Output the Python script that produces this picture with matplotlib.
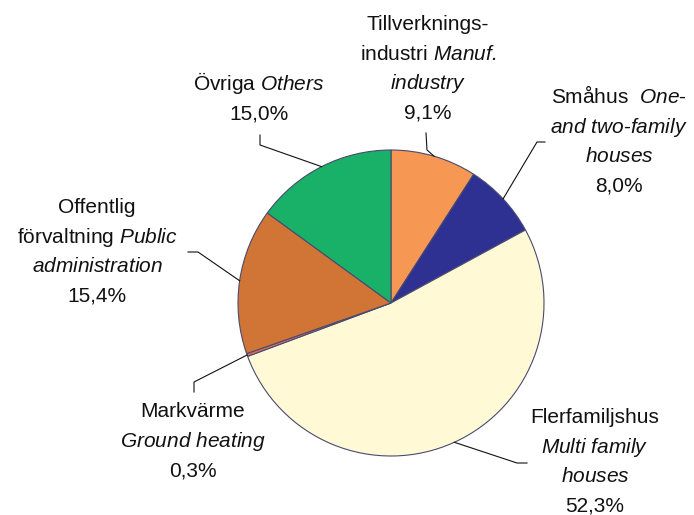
import numpy as np
import matplotlib
matplotlib.use("Agg")
import matplotlib.pyplot as plt

W, H = 694, 515

# data (clockwise from 12 o'clock)
sectors = ["Tillverkningsindustri", "Småhus", "Flerfamiljshus",
           "Markvärme", "Offentlig förvaltning", "Övriga"]
shares = [9.1, 8.0, 52.3, 0.3, 15.4, 15.0]
# \mathbf is mapped to the italic face below so punctuation stays italic too
label_lines = [
    ["Tillverknings-", "industri $\\mathbf{Manuf.}$", "$\\mathbf{industry}$"],
    ["Småhus  $\\mathbf{One}$-", "$\\mathbf{and}$ $\\mathbf{two}$-$\\mathbf{family}$", "$\\mathbf{houses}$"],
    ["Flerfamiljshus", "$\\mathbf{Multi}$ $\\mathbf{family}$", "$\\mathbf{houses}$"],
    ["Markvärme", "$\\mathbf{Ground}$ $\\mathbf{heating}$"],
    ["Offentlig", "förvaltning $\\mathbf{Public}$", "$\\mathbf{administration}$"],
    ["Övriga $\\mathbf{Others}$"],
]

colors = ["#F79754", "#2E3192", "#FFF9D6", "#E07060", "#D07536", "#19B068"]
EDGE = "#4a4a70"
TXT = "#111111"

plt.rcParams["font.family"] = "Liberation Sans"
plt.rcParams["mathtext.fontset"] = "custom"
plt.rcParams["mathtext.rm"] = "Liberation Sans"
plt.rcParams["mathtext.it"] = "Liberation Sans:italic"
plt.rcParams["mathtext.bf"] = "Liberation Sans:italic"

# layout, in pixels from the top-left
CX, CY, R = 391, 303, 153
label_pos = [(428, 30), (619, 103), (595, 423), (193, 417), (97, 213), (259, 90)]
elbows = [[(426, 133), (427, 150)],
          [(545, 142), (537, 142)],
          [(527, 463), (517, 463)],
          [(194, 392), (194, 382)],
          [(188, 252), (198, 252)],
          [(260, 135), (260, 145)]]
LINE_DY = 29.6


def py(y):
    return H - y


fig = plt.figure(figsize=(W / 100, H / 100), dpi=100)
ax = fig.add_axes([0, 0, 1, 1])
wedges, _ = ax.pie(shares, colors=colors, startangle=90, counterclock=False,
                   center=(CX, py(CY)), radius=R,
                   wedgeprops=dict(edgecolor=EDGE, linewidth=0.8))
ax.set_xlim(0, W)
ax.set_ylim(0, H)
ax.set_aspect("equal")
ax.axis("off")

for w, lines, v, (lx, ly), elb in zip(wedges, label_lines, shares,
                                      label_pos, elbows):
    lines = lines + [f"{v:.1f}".replace(".", ",") + "%"]
    for i, s in enumerate(lines):
        ax.text(lx, py(ly + i * LINE_DY), s, fontsize=15, color=TXT,
                ha="center", va="baseline")
    # leader line ends on the rim at the middle of the slice
    mid = np.deg2rad((w.theta1 + w.theta2) / 2)
    ex = CX + R * np.cos(mid)
    ey = py(CY) + R * np.sin(mid)
    xs = [p[0] for p in elb] + [ex]
    ys = [py(p[1]) for p in elb] + [ey]
    ax.plot(xs, ys, color="#111111", lw=0.8)

fig.savefig("out.png", dpi=100, facecolor="white")
